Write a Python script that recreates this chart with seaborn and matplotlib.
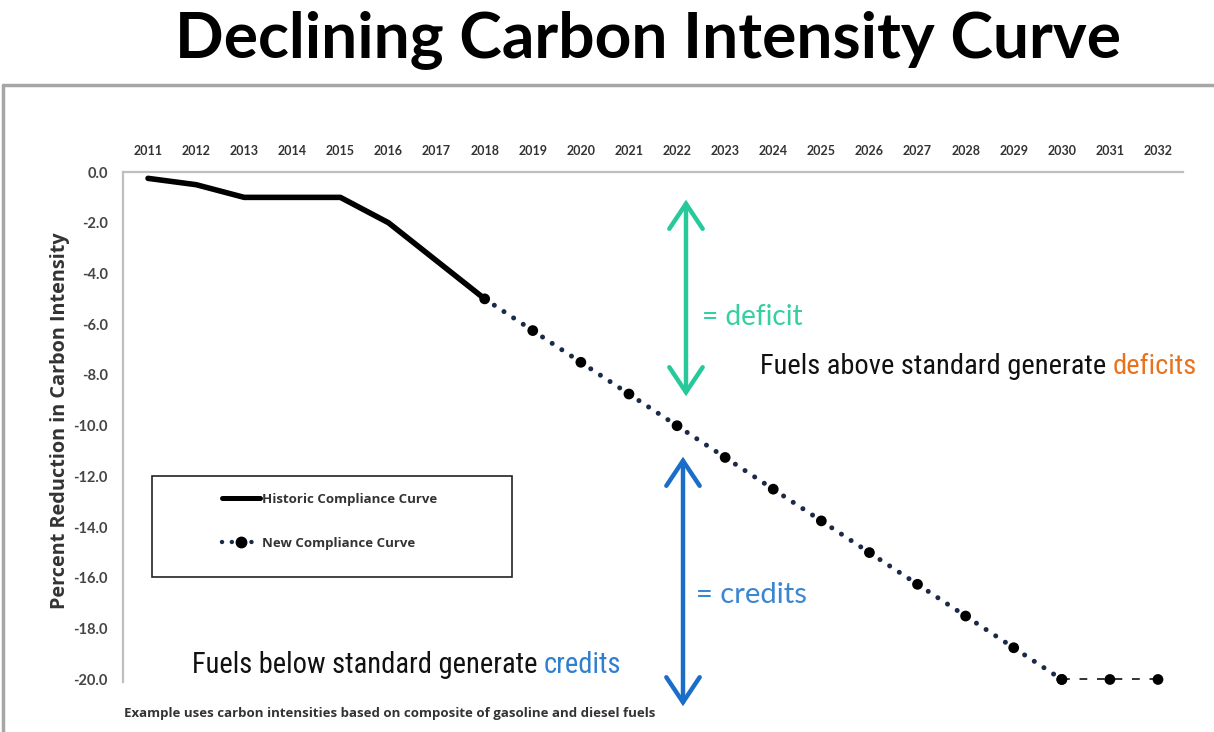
import matplotlib
matplotlib.use("Agg")
import matplotlib.pyplot as plt
from matplotlib.lines import Line2D
from matplotlib.patches import Rectangle, FancyArrowPatch
from matplotlib import font_manager
from matplotlib.font_manager import FontProperties
import seaborn as sns
import pandas as pd

# ---------------- data ----------------
tick_years = [2011, 2012, 2013, 2014, 2015, 2016, 2017, 2018, 2019, 2020, 2021,
              2022, 2023, 2024, 2025, 2026, 2027, 2028, 2029, 2030, 2031, 2032]
y_ticks = [0.0, -2.0, -4.0, -6.0, -8.0, -10.0, -12.0, -14.0, -16.0, -18.0, -20.0]

historic_years = [2011, 2012, 2013, 2014, 2015, 2016, 2017, 2018]
historic_values = [-0.25, -0.5, -1.0, -1.0, -1.0, -2.0, -3.5, -5.0]

new_years = [2018, 2019, 2020, 2021, 2022, 2023, 2024, 2025, 2026, 2027, 2028, 2029, 2030]
new_values = [-5.0, -6.25, -7.5, -8.75, -10.0, -11.25, -12.5, -13.75, -15.0,
              -16.25, -17.5, -18.75, -20.0]

flat_years = [2030, 2031, 2032]
flat_values = [-20.0, -20.0, -20.0]

title = "Declining Carbon Intensity Curve"
y_label = "Percent Reduction in Carbon Intensity"
legend_labels = ["Historic Compliance Curve", "New Compliance Curve"]
footnote = "Example uses carbon intensities based on composite of gasoline and diesel fuels"

# ---------------- fonts ----------------
sns.set_theme(style="white")
plt.rcParams["font.family"] = ["Lato", "DejaVu Sans"]


def _wt(f):
    w = f.weight
    if isinstance(w, str):
        return {"bold": 700, "semibold": 600, "demibold": 600, "heavy": 800,
                "black": 900, "extra bold": 800, "normal": 400, "regular": 400,
                "book": 400, "medium": 500, "light": 300}.get(w.lower(), 400)
    return int(w)


def find_fonts(bold, allow_semi):
    pref = ["Liberation Sans Narrow", "Roboto Condensed", "Noto Sans",
            "Open Sans", "DejaVu Sans"]
    cands = []
    for f in font_manager.fontManager.ttflist:
        cond = (str(f.stretch) in ("condensed", "semi-condensed", "extra-condensed")
                or "Narrow" in f.name or "Condensed" in f.name
                or "Condensed" in f.fname or "Narrow" in f.fname)
        if not cond or f.style != "normal":
            continue
        is_semi = "Semi" in f.fname or str(f.stretch) == "semi-condensed"
        if is_semi != allow_semi:
            continue
        if "Extra" in f.fname or "Ultra" in f.fname:
            continue
        w = _wt(f)
        if bold and w < 600:
            continue
        if not bold and not (350 <= w <= 500):
            continue
        rank = next((i for i, p in enumerate(pref) if f.name.startswith(p)), len(pref))
        cands.append((rank, abs(w - (700 if bold else 400)), f.fname))
    cands.sort()
    return [FontProperties(fname=c[2]) for c in cands]


cond_bold_list = find_fonts(True, False)
semi_bold_list = find_fonts(True, True)
cond_reg_list = find_fonts(False, False)
cond_reg = cond_reg_list[0] if cond_reg_list else FontProperties(family="Roboto")

W, H = 1214, 732
fig = plt.figure(figsize=(W / 100, H / 100), dpi=100)


def fx(px):
    return px / W


def fy(py):
    return 1 - py / H


def fit_width(t, target):
    fig.canvas.draw()
    w = t.get_window_extent().width
    t.set_fontsize(t.get_fontsize() * target / w)


ax = fig.add_axes([fx(123), fy(682), fx(1183) - fx(123), fy(172) - fy(682)])

hist_df = pd.DataFrame({"year": historic_years, "value": historic_values})
new_df = pd.DataFrame({"year": new_years, "value": new_values})
flat_df = pd.DataFrame({"year": flat_years, "value": flat_values})

navy = "#1c2a4a"
sns.lineplot(data=new_df, x="year", y="value", ax=ax, color=navy, lw=3.6,
             linestyle=(0, (0.01, 2.3)), solid_capstyle="round",
             dash_capstyle="round", zorder=2)
sns.scatterplot(data=new_df, x="year", y="value", ax=ax, color="black",
                s=60, edgecolor="none", zorder=4, clip_on=False)
sns.lineplot(data=flat_df, x="year", y="value", ax=ax, color="#333333", lw=1.4,
             linestyle=(0, (4, 5)), zorder=2)
sns.scatterplot(data=flat_df, x="year", y="value", ax=ax, color="black",
                s=60, edgecolor="none", zorder=4, clip_on=False)
sns.lineplot(data=hist_df, x="year", y="value", ax=ax, color="black", lw=4.0,
             solid_capstyle="round", solid_joinstyle="round", zorder=3)

ax.set_xlim(2010.48, 2032.52)
ax.set_ylim(-20.1, 0)
ax.set_xticks(tick_years)
ax.set_xticklabels([str(y) for y in tick_years])
ax.set_yticks(y_ticks)
ax.set_yticklabels([f"{v:.1f}" for v in y_ticks])
ax.xaxis.tick_top()
ax.tick_params(axis="x", length=0, pad=11, labelsize=9, labelcolor="#333333")
ax.tick_params(axis="y", length=0, pad=11, labelsize=10.5, labelcolor="#444444")
for lab in ax.get_xticklabels() + ax.get_yticklabels():
    lab.set_fontweight("bold")
ax.set_xlabel("")
ax.set_ylabel("")
for side in ["bottom", "right"]:
    ax.spines[side].set_visible(False)
for side in ["top", "left"]:
    ax.spines[side].set_color("#bfbfbf")
    ax.spines[side].set_linewidth(1.6)
ax.grid(False)

ylab = fig.text(fx(60), fy(421), y_label, rotation=90, ha="center", va="center",
                fontsize=12, fontweight="bold", color="#333333", family="Open Sans")
fig.canvas.draw()
h = ylab.get_window_extent().height
ylab.set_fontsize(12 * 378 / h)

# ---------------- outer frame ----------------
fig.add_artist(Line2D([fx(3), 1], [fy(85), fy(85)], color="#a6a6a6", lw=2.5))
fig.add_artist(Line2D([fx(3), fx(3)], [fy(85), 0], color="#a6a6a6", lw=2.5))

# ---------------- title ----------------
# choose the bold face whose proportions best match: cap height ~45px, width ~1015px
title_cands = semi_bold_list[:1] + cond_bold_list[:1] + [
    FontProperties(family="Roboto", weight="bold"),
    FontProperties(family="Lato", weight="bold")]
best = None
for fp in title_cands:
    probe = fig.text(0.5, 0.5, "H", fontproperties=fp)
    probe.set_fontsize(40)
    fig.canvas.draw()
    cap = probe.get_window_extent().height
    probe.set_text(title)
    fig.canvas.draw()
    wid = probe.get_window_extent().width
    probe.remove()
    size_h = 40 * 52 / cap
    width_at_h = wid * size_h / 40
    score = abs(width_at_h - 1015)
    if best is None or score < best[0]:
        best = (score, fp, size_h, wid)
_, title_fp, size_h, wid40 = best
size_w = 40 * 1015 / wid40
title_size = size_h ** 0.4 * size_w ** 0.6
tt = fig.text(fx(648), fy(40), title, ha="center", va="center",
              color="black", fontproperties=title_fp)
tt.set_fontsize(title_size)

# ---------------- legend ----------------
fig.add_artist(Rectangle((fx(152), fy(577)), fx(512) - fx(152), fy(476) - fy(577),
                         fill=False, edgecolor="#222222", lw=1.2))
handles = [
    Line2D([], [], color="black", lw=3.6),
    Line2D([], [], color=navy, lw=3.2, linestyle=(0, (0.01, 2.2)),
           dash_capstyle="round", marker="o", markersize=7.5,
           markerfacecolor="black", markeredgecolor="black"),
]
leg = fig.legend(handles, legend_labels, loc="upper left",
                 bbox_to_anchor=(fx(222), fy(493)), frameon=False,
                 prop={"size": 9.5, "weight": "bold", "family": "Open Sans"},
                 handlelength=2.9, handletextpad=0.15, labelspacing=2.35,
                 borderpad=0, borderaxespad=0)
for t in leg.get_texts():
    t.set_color("#333333")

# ---------------- annotations ----------------
green = "#27c99a"
blue = "#1b6ec8"
fig.add_artist(FancyArrowPatch(
    (fx(686), fy(399)), (fx(686), fy(197)), transform=fig.transFigure,
    arrowstyle="<->,head_length=0.75,head_width=0.5", mutation_scale=24,
    lw=3.2, color=green, joinstyle="miter"))
fig.add_artist(FancyArrowPatch(
    (fx(683), fy(709)), (fx(683), fy(454)), transform=fig.transFigure,
    arrowstyle="<->,head_length=0.75,head_width=0.5", mutation_scale=24,
    lw=3.2, color=blue, joinstyle="miter"))

td = fig.text(fx(702), fy(317), "= deficit", ha="left", va="center", fontsize=19,
              color="#35cfa0", family="Lato")
fit_width(td, 101)
tc = fig.text(fx(696), fy(595), "= credits", ha="left", va="center", fontsize=19,
              color="#3a86d2", family="Lato")
fit_width(tc, 111)


def two_tone(x0, y0, s1, s2, color2, target):
    t1 = fig.text(fx(x0), fy(y0), s1 + " " + s2, ha="left", va="center",
                  fontsize=16, color="#111111", fontproperties=cond_reg)
    t1.set_fontsize(16)
    fit_width(t1, target)
    size = t1.get_fontsize()
    t1.set_text(s1 + " ")
    fig.canvas.draw()
    bb = t1.get_window_extent()
    t2 = fig.text(bb.x1 / W, fy(y0), s2, ha="left", va="center",
                  color=color2, fontproperties=cond_reg)
    t2.set_fontsize(size)


two_tone(760, 367, "Fuels above standard generate", "deficits", "#e8731e", 437)
two_tone(192, 665, "Fuels below standard generate", "credits", "#2f7fd0", 430)

fn = fig.text(fx(124), fy(713), footnote, ha="left", va="center", fontsize=8,
              fontweight="bold", color="#333333", family="Open Sans")
fit_width(fn, 532)

fig.savefig("out.png", dpi=100, facecolor="white")
